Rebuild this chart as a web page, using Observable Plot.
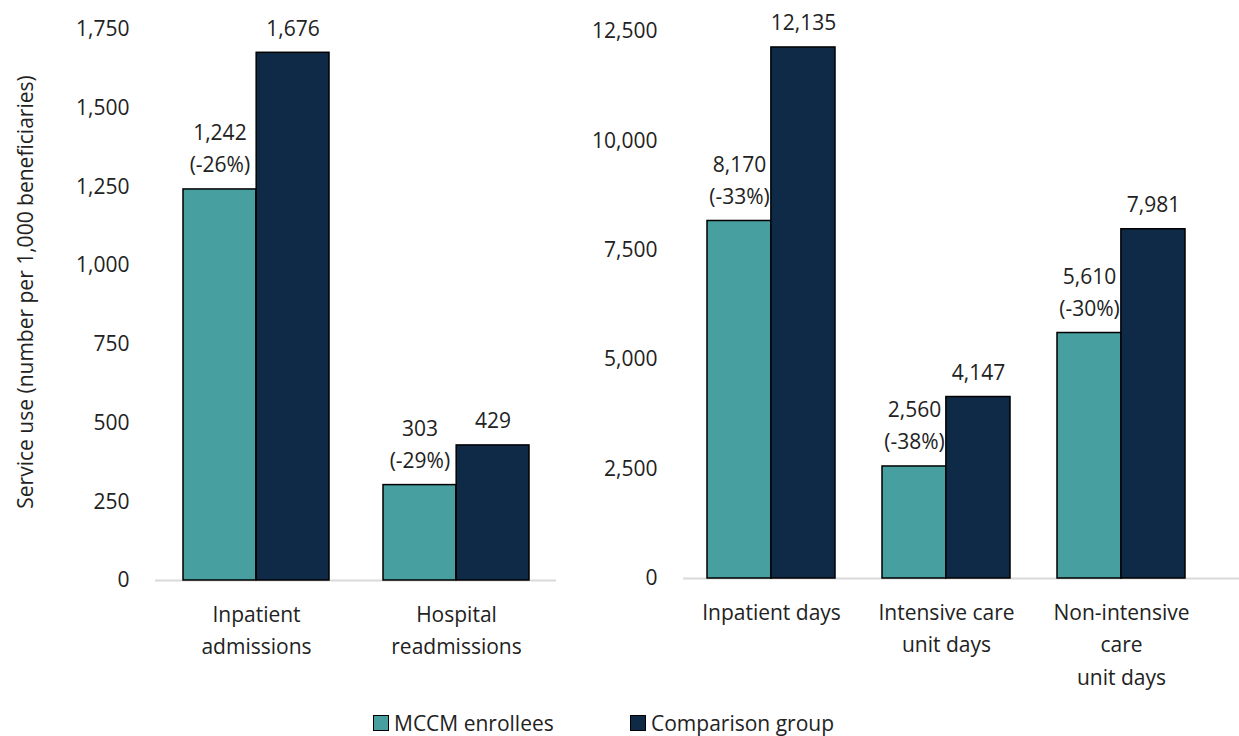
<!DOCTYPE html>
<html>
<head>
<meta charset="utf-8">
<script src="https://cdn.jsdelivr.net/npm/d3@7"></script>
<script src="https://cdn.jsdelivr.net/npm/@observablehq/plot@0.6"></script>
<style>
  html, body { margin: 0; padding: 0; background: #fff; }
  body { width: 1239px; height: 736px; position: relative; overflow: hidden;
         font-family: "Open Sans", "Noto Sans", sans-serif; color: #222; }
  #panels { position: absolute; left: 0; top: 0; display: flex; }
  #legend { position: absolute; top: 708px; left: 0; width: 1239px; height: 30px; font-size: 21px; }
  .item { position: absolute; top: 0; display: flex; align-items: center; height: 30px; }
  .swatch { width: 14px; height: 14px; border: 1px solid #000; margin-right: 5px; }
</style>
</head>
<body>
<div id="panels"></div>
<div id="legend"></div>
<script>
// Service use per 1,000 beneficiaries
const series = ["MCCM enrollees", "Comparison group"];
const colors = ["#479f9f", "#0e2a47"];

// Left panel: events
const eventCategories = ["Inpatient admissions", "Hospital readmissions"];
const eventLabels = ["Inpatient\nadmissions", "Hospital\nreadmissions"];
const eventMccm = [1242, 303];
const eventComparison = [1676, 429];
const eventTicks = [0, 250, 500, 750, 1000, 1250, 1500, 1750];

// Right panel: days
const dayCategories = ["Inpatient days", "Intensive care unit days", "Non-intensive care unit days"];
const dayLabels = ["Inpatient days", "Intensive care\nunit days", "Non-intensive\ncare\nunit days"];
const dayMccm = [8170, 2560, 5610];
const dayComparison = [12135, 4147, 7981];
const dayTicks = [0, 2500, 5000, 7500, 10000, 12500];

const fmt = d3.format(",");
const FONT = 21;
const PAD_INNER = 0.27, PAD_OUTER = 0.135;

function panel({categories, labels, mccm, comparison, ticks, width, height, marginLeft, marginRight,
                marginTop, marginBottom, xRange, yLabel}) {
  const rows = categories.map((c, i) => ({
    category: c,
    label: labels[i],
    mccm: mccm[i],
    comparison: comparison[i],
    change: Math.round((mccm[i] / comparison[i] - 1) * 100)
  }));
  // half of the band width, used to split each band into two bars
  const [r0, r1] = xRange ?? [marginLeft, width - marginRight];
  const step = (r1 - r0) / (categories.length - PAD_INNER + 2 * PAD_OUTER);
  const half = step * (1 - PAD_INNER) / 2;

  const marks = [
    Plot.ruleY([0], {stroke: "#d9d9d9", strokeWidth: 2}),
    Plot.barY(rows, {x: "category", y: "mccm", fill: colors[0], stroke: "#000", strokeWidth: 1.5,
                     insetRight: half, insetLeft: 0}),
    Plot.barY(rows, {x: "category", y: "comparison", fill: colors[1], stroke: "#000", strokeWidth: 1.5,
                     insetLeft: half, insetRight: 0}),
    Plot.text(rows, {x: "category", y: "mccm", dx: -half / 2, dy: -17,
                     text: d => `${fmt(d.mccm)}\n(${d.change}%)`, lineAnchor: "bottom",
                     lineHeight: 1.53, fontSize: FONT, fill: "#222"}),
    Plot.text(rows, {x: "category", y: "comparison", dx: half / 2, dy: -17,
                     text: d => fmt(d.comparison), lineAnchor: "bottom",
                     fontSize: FONT, fill: "#222"}),
    Plot.text(rows, {x: "category", frameAnchor: "bottom", lineAnchor: "top", dy: 19,
                     text: "label", lineHeight: 1.53, fontSize: FONT, fill: "#222"}),
    Plot.axisY({ticks, tickFormat: fmt, tickSize: 0, tickPadding: 26, fontSize: FONT,
                label: null, fill: "#222"})
  ];
  if (yLabel) {
    marks.push(Plot.text([yLabel], {frameAnchor: "left", textAnchor: "middle", dx: -129, dy: -13,
                                    rotate: -90, text: d => d, fontSize: FONT, fill: "#222"}));
  }
  return Plot.plot({
    width, height, marginLeft, marginRight, marginTop, marginBottom,
    style: {fontFamily: '"Open Sans", "Noto Sans", sans-serif', background: "transparent"},
    x: {domain: categories, paddingInner: PAD_INNER, paddingOuter: PAD_OUTER, axis: null,
        ...(xRange ? {range: xRange} : {})},
    y: {domain: [ticks[0], ticks[ticks.length - 1]], axis: null},
    marks
  });
}

const left = panel({
  categories: eventCategories, labels: eventLabels, mccm: eventMccm, comparison: eventComparison,
  ticks: eventTicks, width: 560, height: 700, marginLeft: 155, marginRight: 4,
  marginTop: 29, marginBottom: 120, yLabel: "Service use (number per 1,000 beneficiaries)"
});
const right = panel({
  categories: dayCategories, labels: dayLabels, mccm: dayMccm, comparison: dayComparison,
  ticks: dayTicks, width: 679, height: 700, marginLeft: 123, marginRight: 0,
  marginTop: 31, marginBottom: 122, xRange: [123, 648]
});
document.getElementById("panels").append(left, right);

// Legend
const legend = document.getElementById("legend");
const legendLeft = [373, 630];
series.forEach((name, i) => {
  const item = document.createElement("div");
  item.className = "item";
  item.style.left = legendLeft[i] + "px";
  const sw = document.createElement("span");
  sw.className = "swatch";
  sw.style.background = colors[i];
  const label = document.createElement("span");
  label.textContent = name;
  item.append(sw, label);
  legend.append(item);
});
</script>
</body>
</html>
